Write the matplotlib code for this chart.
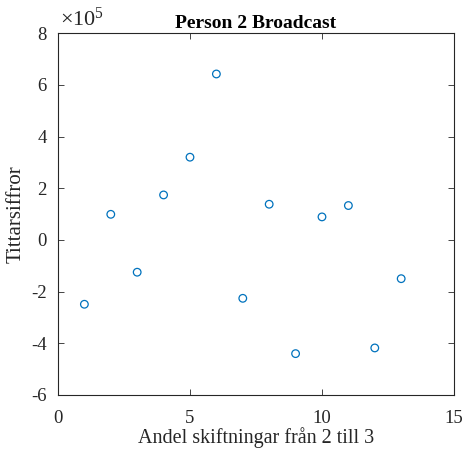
import matplotlib
matplotlib.use("Agg")
import matplotlib.pyplot as plt
from matplotlib.ticker import FuncFormatter

plt.rcParams['font.family'] = ['Liberation Serif', 'DejaVu Serif']
plt.rcParams['mathtext.fontset'] = 'custom'
plt.rcParams['mathtext.rm'] = 'Liberation Serif'
plt.rcParams['mathtext.it'] = 'Liberation Serif:italic'
plt.rcParams['axes.unicode_minus'] = False

# Share of shifts from 2 to 3 vs. viewer figures
andel = [1, 2, 3, 4, 5, 6, 7, 8, 9, 10, 11, 12, 13]
tittarsiffror = [-2.49e5, 0.99e5, -1.25e5, 1.74e5, 3.20e5, 6.42e5, -2.26e5,
                 1.38e5, -4.40e5, 0.89e5, 1.33e5, -4.18e5, -1.50e5]
x_ticks = [0, 5, 10, 15]
y_ticks = [-6e5, -4e5, -2e5, 0, 2e5, 4e5, 6e5, 8e5]
exponent = 5

axis_color = '#262626'

fig = plt.figure(figsize=(4.65, 4.54), dpi=100)
ax = fig.add_axes([0.1247, 0.130, 0.8516, 0.797])

ax.scatter(andel, tittarsiffror, s=30, facecolors='none',
           edgecolors='#0072BD', linewidths=0.9, zorder=3)

ax.set_xlim(0, 15)
ax.set_ylim(-6e5, 8e5)
ax.set_xticks(x_ticks)
ax.set_yticks(y_ticks)

scale = 10 ** exponent
ax.yaxis.set_major_formatter(FuncFormatter(lambda v, p: f'{v / scale:g}'))
ax.text(0.004, 1.006, r'$\times 10^{%d}$' % exponent, transform=ax.transAxes,
        ha='left', va='bottom', fontsize=16, color=axis_color)

ax.tick_params(direction='in', length=4, width=0.6, top=True, right=True,
               labelsize=13.5, colors=axis_color)
ax.tick_params(axis='y', pad=8)
ax.tick_params(axis='x', pad=11)
for sp in ax.spines.values():
    sp.set_color(axis_color)
    sp.set_linewidth(0.8)

ax.set_title('Person 2 Broadcast', fontsize=14, fontweight='bold', pad=4)
ax.set_xlabel('Andel skiftningar från 2 till 3', fontsize=14.5, color=axis_color, labelpad=0)
ax.set_ylabel('Tittarsiffror', fontsize=15, color=axis_color, labelpad=4)

fig.savefig('out.png', dpi=100)
